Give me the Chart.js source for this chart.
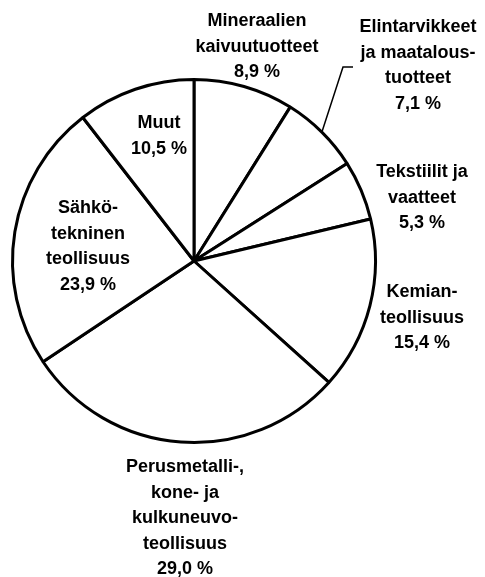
<!DOCTYPE html>
<html>
<head>
<meta charset="utf-8">
<script src="https://cdn.jsdelivr.net/npm/chart.js@4.4.1/dist/chart.umd.min.js"></script>
<style>
    body { margin: 0; background: #fff; }
    #wrap { width: 485px; height: 577px; }
</style>
</head>
<body>
<div id="wrap"><canvas id="myChart" width="485" height="577"></canvas></div>
<script>
    // toimialat myötäpäivään ylhäältä
    const names = ['Mineraalien kaivuutuotteet', 'Elintarvikkeet ja maatalous­tuotteet', 'Tekstiilit ja vaatteet',
        'Kemianteollisuus', 'Perusmetalli-, kone- ja kulkuneuvoteollisuus', 'Sähkötekninen teollisuus', 'Muut'];
    const shares = [8.9, 7.1, 5.3, 15.4, 29.0, 23.9, 10.5];
    const labelLines = [
        ['Mineraalien', 'kaivuutuotteet', '8,9 %'],
        ['Elintarvikkeet', 'ja maatalous-', 'tuotteet', '7,1 %'],
        ['Tekstiilit ja', 'vaatteet', '5,3 %'],
        ['Kemian-', 'teollisuus', '15,4 %'],
        ['Perusmetalli-,', 'kone- ja', 'kulkuneuvo-', 'teollisuus', '29,0 %'],
        ['Sähkö-', 'tekninen', 'teollisuus', '23,9 %'],
        ['Muut', '10,5 %']
    ];
    // tekstien paikat (keskikohta x, ensimmäisen rivin perusviiva y)
    const labelPos = [[257, 26], [418, 32], [422, 177], [422, 297], [185, 472], [88, 213], [159, 128]];
    const lineH = 25.5;

    const labelPlugin = {
        id: 'labels',
        afterDraw(chart) {
            const c = chart.ctx;
            c.save();
            c.fillStyle = '#000';
            c.font = 'bold 18px "Liberation Sans", Arial, sans-serif';
            c.textAlign = 'center';
            c.textBaseline = 'alphabetic';
            labelLines.forEach(function (lines, i) {
                lines.forEach(function (t, j) {
                    c.fillText(t, labelPos[i][0], labelPos[i][1] + j * lineH);
                });
            });
            // viiva Elintarvikkeet-tekstiin
            const arc = chart.getDatasetMeta(0).data[1];
            const mid = (arc.startAngle + arc.endAngle) / 2;
            const px = arc.x + Math.cos(mid) * arc.outerRadius;
            const py = arc.y + Math.sin(mid) * arc.outerRadius;
            c.strokeStyle = '#000';
            c.lineWidth = 1.5;
            c.beginPath();
            c.moveTo(px, py);
            c.lineTo(343, 67);
            c.lineTo(353, 67);
            c.stroke();
            c.restore();
        }
    };

    const ctx = document.getElementById('myChart');
    var chart = new Chart(ctx, {
        type: 'pie',
        data: {
            labels: names,
            datasets: [{
                data: shares,
                backgroundColor: '#fff',
                borderColor: '#000',
                borderWidth: 3
            }]
        },
        options: {
            responsive: false,
            animation: false,
            layout: {
                padding: { left: 11, top: 78, right: 108, bottom: 133 }
            },
            plugins: {
                legend: { display: false },
                tooltip: { enabled: false }
            }
        },
        plugins: [labelPlugin]
    });
</script>
</body>
</html>
